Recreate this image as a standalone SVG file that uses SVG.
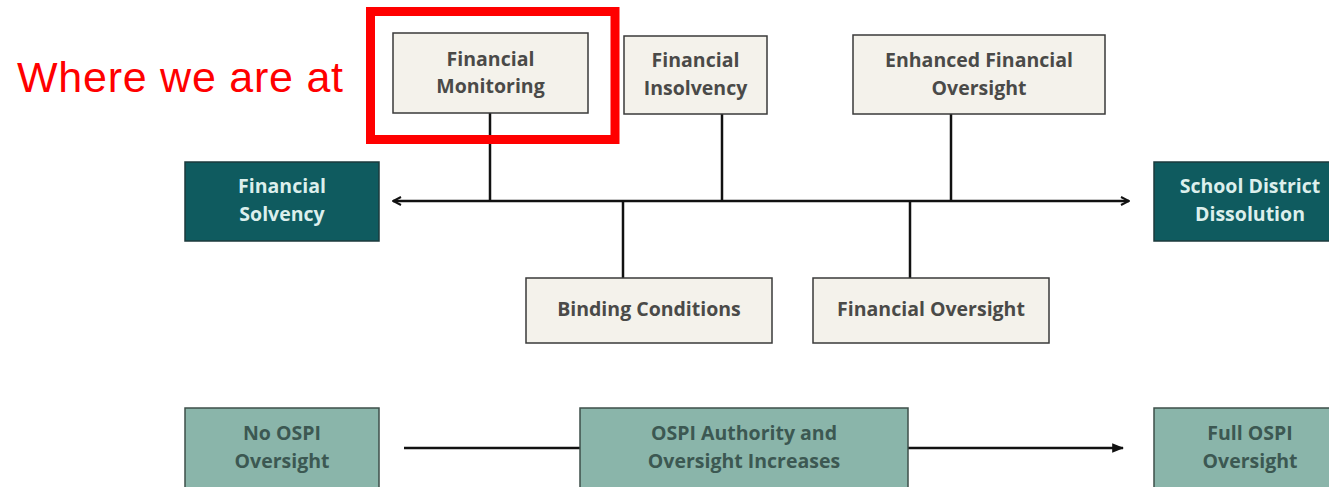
<svg xmlns="http://www.w3.org/2000/svg" width="1329" height="487" viewBox="0 0 1329 487">
<style>
.light{fill:#f4f2eb;stroke:#3a3a3a;stroke-width:1.5}
.dark{fill:#0f5b5f;stroke:#1c3a3c;stroke-width:1.5}
.teal{fill:#8ab5aa;stroke:#3e4f4a;stroke-width:1.5}
.t{font-family:"Open Sans","Liberation Sans",sans-serif;font-weight:700;font-size:19.5px;text-anchor:middle}
.tl{fill:#4a4a48}
.td{fill:#dcefec}
.tt{fill:#3c5852}
.c{stroke:#111;stroke-width:2.5;fill:none}
</style>
<defs>
<marker id="ah" viewBox="0 0 10 10" refX="9" refY="5" markerWidth="10" markerHeight="10" markerUnits="userSpaceOnUse" orient="auto-start-reverse">
<path d="M1,1 L9,5 L1,9" fill="none" stroke="#111" stroke-width="2"/>
</marker>
<marker id="ahf" viewBox="0 0 10 10" refX="9" refY="5" markerWidth="12" markerHeight="12" markerUnits="userSpaceOnUse" orient="auto">
<path d="M0,1 L10,5 L0,9 Z" fill="#111"/>
</marker>
</defs>
<rect width="1329" height="487" fill="#fff"/>
<g id="connectors">
<line class="c" x1="393" y1="201" x2="1129" y2="201" marker-start="url(#ah)" marker-end="url(#ah)"/>
<line class="c" x1="490" y1="113" x2="490" y2="201"/>
<line class="c" x1="722" y1="114" x2="722" y2="201"/>
<line class="c" x1="951" y1="114" x2="951" y2="201"/>
<line class="c" x1="623" y1="201" x2="623" y2="278"/>
<line class="c" x1="910" y1="201" x2="910" y2="278"/>
<line class="c" x1="404" y1="448" x2="580" y2="448"/>
<line class="c" x1="908" y1="448" x2="1123" y2="448" marker-end="url(#ahf)"/>
</g>
<g id="label-where">
<text x="17" y="92" font-family="Liberation Sans, Arial, sans-serif" font-size="43" fill="#ff0000" textLength="326">Where we are at</text>
<rect x="370.5" y="11.5" width="244.5" height="128" fill="none" stroke="#ff0000" stroke-width="9"/>
</g>
<g id="financial-monitoring">
<rect class="light" x="393" y="33" width="195" height="80"/>
<text class="t tl" x="490.5" y="66">Financial</text>
<text class="t tl" x="490.5" y="93">Monitoring</text>
</g>
<g id="financial-insolvency">
<rect class="light" x="624" y="36" width="143" height="78"/>
<text class="t tl" x="695.5" y="67">Financial</text>
<text class="t tl" x="695.5" y="95">Insolvency</text>
</g>
<g id="enhanced-financial-oversight">
<rect class="light" x="853" y="35" width="252" height="79"/>
<text class="t tl" x="979" y="67">Enhanced Financial</text>
<text class="t tl" x="979" y="95">Oversight</text>
</g>
<g id="financial-solvency">
<rect class="dark" x="185" y="162" width="194" height="79"/>
<text class="t td" x="282" y="193">Financial</text>
<text class="t td" x="282" y="221">Solvency</text>
</g>
<g id="school-district-dissolution">
<rect class="dark" x="1154" y="162" width="185" height="79"/>
<text class="t td" x="1250" y="193">School District</text>
<text class="t td" x="1250" y="221">Dissolution</text>
</g>
<g id="binding-conditions">
<rect class="light" x="526" y="278" width="246" height="65"/>
<text class="t tl" x="649" y="316">Binding Conditions</text>
</g>
<g id="financial-oversight">
<rect class="light" x="813" y="278" width="236" height="65"/>
<text class="t tl" x="931" y="316">Financial Oversight</text>
</g>
<g id="no-ospi-oversight">
<rect class="teal" x="185" y="408" width="194" height="90"/>
<text class="t tt" x="282" y="440">No OSPI</text>
<text class="t tt" x="282" y="468">Oversight</text>
</g>
<g id="ospi-authority">
<rect class="teal" x="580" y="408" width="328" height="90"/>
<text class="t tt" x="744" y="440">OSPI Authority and</text>
<text class="t tt" x="744" y="468">Oversight Increases</text>
</g>
<g id="full-ospi-oversight">
<rect class="teal" x="1154" y="408" width="185" height="90"/>
<text class="t tt" x="1250" y="440">Full OSPI</text>
<text class="t tt" x="1250" y="468">Oversight</text>
</g>
</svg>
